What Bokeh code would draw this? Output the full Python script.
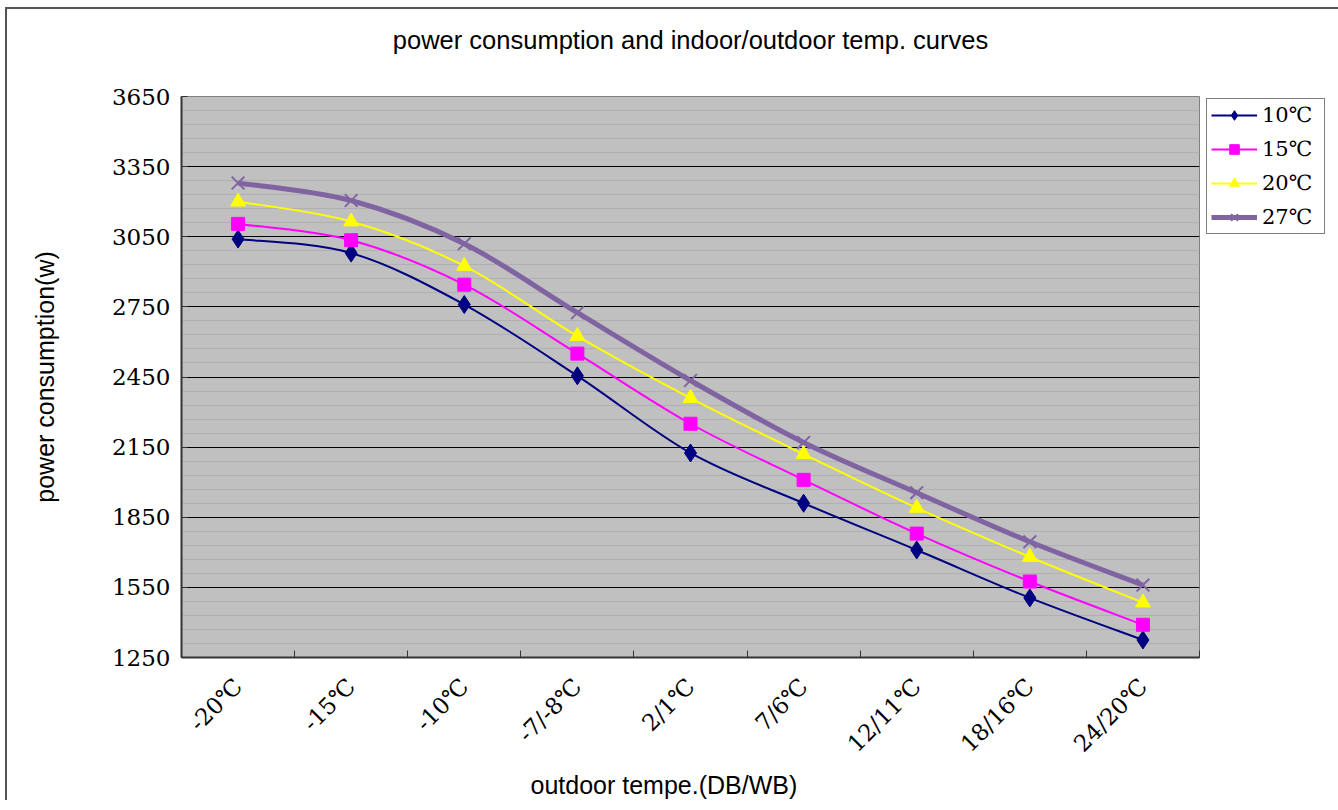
import math
from bokeh.plotting import figure
from bokeh.models import Range1d, FixedTicker, Legend, LegendItem, Title, ColumnDataSource
from bokeh.embed import file_html
from bokeh.resources import INLINE

# ---- data ----
categories = ["-20℃", "-15℃", "-10℃", "-7/-8℃", "2/1℃", "7/6℃", "12/11℃", "18/16℃", "24/20℃"]
series_names = ["10℃", "15℃", "20℃", "27℃"]
s10 = [3040, 2980, 2760, 2455, 2125, 1910, 1710, 1505, 1325]
s15 = [3105, 3035, 2845, 2550, 2250, 2010, 1780, 1575, 1390]
s20 = [3200, 3115, 2925, 2625, 2360, 2120, 1890, 1680, 1485]
s27 = [3280, 3205, 3020, 2725, 2435, 2170, 1955, 1745, 1560]
y_ticks = [1250, 1550, 1850, 2150, 2450, 2750, 3050, 3350, 3650]
y_minor = list(range(1250, 3651, 60))

series = [s10, s15, s20, s27]
colors = ["#000080", "#FF00FF", "#FFFF00", "#8064A2"]
line_widths = [2, 2, 2, 5]
markers = ["diamond", "square", "triangle", "x"]
marker_sizes = [18, 13, 15, 18]

xc = [i + 0.5 for i in range(len(categories))]
NAN = float("nan")


def bezier_source(xs, ys):
    n = len(xs)
    d = dict(x0=[], y0=[], x1=[], y1=[], cx0=[], cy0=[], cx1=[], cy1=[])
    for i in range(n - 1):
        a = max(i - 1, 0)
        b = min(i + 2, n - 1)
        d["x0"].append(xs[i]); d["y0"].append(ys[i])
        d["x1"].append(xs[i + 1]); d["y1"].append(ys[i + 1])
        d["cx0"].append(xs[i] + (xs[i + 1] - xs[a]) / 6.0)
        d["cy0"].append(ys[i] + (ys[i + 1] - ys[a]) / 6.0)
        d["cx1"].append(xs[i + 1] - (xs[b] - xs[i]) / 6.0)
        d["cy1"].append(ys[i + 1] - (ys[b] - ys[i]) / 6.0)
    return ColumnDataSource(d)


p = figure(frame_width=1018, frame_height=561, output_backend="svg", toolbar_location=None,
           x_range=Range1d(0, len(categories)), y_range=Range1d(1250, 3650),
           min_border_left=174, min_border_right=128, min_border_top=87, min_border_bottom=143)
p.styles = {"border-left": "2px solid #555555", "border-top": "2px solid #555555",
            "margin-left": "5px", "margin-top": "7px"}

p.background_fill_color = "#C0C0C0"
p.border_fill_color = "white"
p.outline_line_color = "#808080"
p.outline_line_width = 1

# title (outermost) with a blank spacer between it and the frame
p.title = Title(text="power consumption and indoor/outdoor temp. curves", align="center",
                text_font="Liberation Sans", text_font_size="25.5px", text_font_style="normal",
                text_color="black", standoff=0)
p.add_layout(Title(text=" ", text_font_size="10px", standoff=30), "above")

# axes
yax = p.yaxis[0]
yax.ticker = FixedTicker(ticks=y_ticks, minor_ticks=y_minor)
yax.axis_line_color = "#333333"
yax.axis_line_width = 2
yax.major_tick_in = 6
yax.major_tick_out = 0
yax.major_tick_line_color = "#333333"
yax.minor_tick_line_color = None
yax.major_label_text_font = "DejaVu Serif"
yax.major_label_text_font_size = "23px"
yax.major_label_text_color = "black"
yax.major_label_standoff = 7
yax.axis_label = "power consumption(w)"
yax.axis_label_text_font = "Liberation Sans"
yax.axis_label_text_font_size = "25px"
yax.axis_label_text_font_style = "normal"
yax.axis_label_text_color = "black"
yax.axis_label_standoff = 50

xax = p.xaxis[0]
xax.ticker = FixedTicker(ticks=xc, minor_ticks=list(range(len(categories) + 1)))
xax.major_label_overrides = {x: c for x, c in zip(xc, categories)}
xax.major_label_orientation = math.pi / 4
xax.major_label_text_font = "DejaVu Serif"
xax.major_label_text_font_size = "23px"
xax.major_label_text_color = "black"
xax.major_label_standoff = 25
xax.axis_line_color = "#333333"
xax.axis_line_width = 2
xax.major_tick_in = 0
xax.major_tick_out = 0
xax.minor_tick_in = 7
xax.minor_tick_out = 0
xax.minor_tick_line_color = "#333333"
xax.minor_tick_line_width = 1

p.add_layout(Title(text="outdoor tempe.(DB/WB)", align="left", offset=349,
                   text_font="Liberation Sans", text_font_size="25px", text_font_style="normal",
                   text_color="black", standoff=0), "below")

# grid
p.xgrid.grid_line_color = None
p.ygrid.grid_line_color = "black"
p.ygrid.grid_line_width = 1
p.ygrid.minor_grid_line_color = "#B0B0B0"
p.ygrid.minor_grid_line_width = 1

# series
items = []
for name, ys, col, lw, mk, ms in zip(series_names, series, colors, line_widths, markers, marker_sizes):
    src = bezier_source(xc, ys)
    p.bezier(x0="x0", y0="y0", x1="x1", y1="y1", cx0="cx0", cy0="cy0", cx1="cx1", cy1="cy1",
             source=src, line_color=col, line_width=lw)
    if mk == "x":
        sr = p.scatter(xc, ys, marker=mk, size=ms, line_color=col, line_width=2)
    else:
        sr = p.scatter(xc, ys, marker=mk, size=ms, fill_color=col, line_color=col)
    proxy = p.line([NAN], [NAN], line_color=col, line_width=lw)
    items.append(LegendItem(label=name, renderers=[proxy, sr]))

legend = Legend(items=items, location=(7, 423), orientation="vertical",
                label_text_font="DejaVu Serif", label_text_font_size="21px",
                label_text_color="black",
                glyph_width=46, glyph_height=24, label_height=20, label_standoff=5,
                label_width=58, spacing=10, padding=4, margin=0,
                border_line_color="black", border_line_width=1,
                background_fill_color="white", background_fill_alpha=1.0)
p.add_layout(legend, "right")

open("out.html", "w").write(file_html(p, INLINE))
